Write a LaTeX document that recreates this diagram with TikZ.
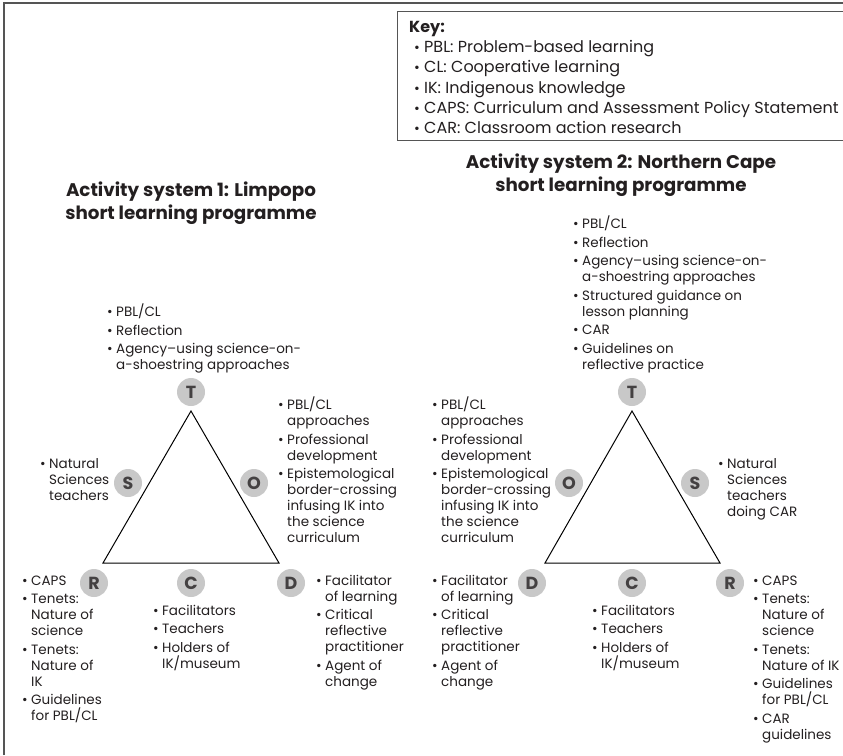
\documentclass[tikz,border=0pt]{standalone}
\usepackage{fontspec}
\setmainfont{Poppins}
\definecolor{inkcol}{HTML}{231F20}
\definecolor{discfill}{HTML}{C8C8C8}
\definecolor{framecol}{HTML}{555555}
% bullet, continuation indent and first-line strut
\newcommand\bu{\makebox[9pt][l]{\textbullet}}
\newcommand\cn{\hspace*{9pt}}
\newcommand\tp{\rule{0pt}{12pt}}
\newcommand\ig{\\[2.5pt]}
\newcommand\kb{\hspace*{5pt}\makebox[10pt][l]{{\fontsize{14}{14}\selectfont\textbullet}}}
\begin{document}
\begin{tikzpicture}[x=1pt,y=-1pt,
  letter/.style={circle, fill=discfill, minimum size=28pt, inner sep=0pt,
    font=\fontsize{17.5}{17.5}\selectfont\bfseries, text=inkcol!85},
  block/.style={anchor=north west, inner sep=0pt, align=left,
    font=\fontsize{13.5}{16}\selectfont, text=inkcol},
  heading/.style={anchor=north, inner sep=0pt, align=center,
    font=\fontsize{18.3}{22.5}\selectfont\bfseries, text=inkcol},
  edge/.style={draw=black, line width=1pt, line join=miter}]
\useasboundingbox (0,0) rectangle (843,755);

% outer frame (top and left sides)
\draw[framecol, line width=1.5pt] (4,755) -- (4,3) -- (850,3);

% key box
\node[draw=framecol, line width=1pt, anchor=north west, minimum width=470pt,
  minimum height=129pt, inner sep=0pt] (keybox) at (397,11) {};
\node[anchor=north west, inner sep=0pt, align=left, text=inkcol,
  font=\fontsize{16}{20.1}\selectfont] (keytext) at (409,18.5)
  {\rule{0pt}{14pt}\textbf{Key:}\\
   \kb PBL: Problem-based learning\\
   \kb CL: Cooperative learning\\
   \kb IK: Indigenous knowledge\\
   \kb CAPS: Curriculum and Assessment Policy Statement\\
   \kb CAR: Classroom action research};

% headings
\node[heading] (head1) at (191,180.5) {\rule{0pt}{16pt}Activity system 1: Limpopo\\short learning programme};
\node[heading] (head2) at (621,152.5) {\rule{0pt}{16pt}Activity system 2: Northern Cape\\short learning programme};

% ---------- activity system 1 ----------
\coordinate (apexL) at (191,411);
\coordinate (leftL) at (103,563);
\coordinate (rightL) at (279,563);
\draw[edge] (apexL) -- (rightL) -- (leftL) -- cycle;

\node[letter] (TL) at (191,392) {T};
\node[letter] (SL) at (128,483) {S};
\node[letter] (OL) at (254,483) {O};
\node[letter] (RL) at (94,583) {R};
\node[letter] (CL) at (191,583) {C};
\node[letter] (DL) at (291,583) {D};

\node[block] (tL) at (107,304) {\tp\bu PBL/CL\ig\bu Reflection\ig
  \bu Agency–using science-on-\\\cn a-shoestring approaches};
\node[block] (sL) at (40,456) {\tp\bu Natural\\\cn Sciences\\\cn teachers};
\node[block] (oL) at (278,397) {\tp\bu PBL/CL\\\cn approaches\ig
  \bu Professional\\\cn development\ig
  \bu Epistemological\\\cn border-crossing\\\cn infusing IK into\\\cn the science\\\cn curriculum};
\node[block] (rL) at (22,573) {\tp\bu CAPS\ig\bu Tenets:\\\cn Nature of\\\cn science\ig
  \bu Tenets:\\\cn Nature of\\\cn IK\ig\bu Guidelines\\\cn for PBL/CL};
\node[block] (cL) at (153,603) {\tp\bu Facilitators\ig\bu Teachers\ig
  \bu Holders of\\\cn IK/museum};
\node[block] (dL) at (316,573) {\tp\bu Facilitator\\\cn of learning\ig
  \bu Critical\\\cn reflective\\\cn practitioner\ig\bu Agent of\\\cn change};

% ---------- activity system 2 ----------
\coordinate (apexR) at (632,411);
\coordinate (leftR) at (545,563);
\coordinate (rightR) at (720,563);
\draw[edge] (apexR) -- (rightR) -- (leftR) -- cycle;

\node[letter] (TR) at (632,392) {T};
\node[letter] (OR) at (569,483) {O};
\node[letter] (SR) at (695,483) {S};
\node[letter] (DR) at (532,583) {D};
\node[letter] (CR) at (632,583) {C};
\node[letter] (RR) at (730,583) {R};

\node[block] (tR) at (573,216) {\tp\bu PBL/CL\ig\bu Reflection\ig
  \bu Agency–using science-on-\\\cn a-shoestring approaches\ig
  \bu Structured guidance on\\\cn lesson planning\ig\bu CAR\ig
  \bu Guidelines on\\\cn reflective practice};
\node[block] (oR) at (432,397) {\tp\bu PBL/CL\\\cn approaches\ig
  \bu Professional\\\cn development\ig
  \bu Epistemological\\\cn border-crossing\\\cn infusing IK into\\\cn the science\\\cn curriculum};
\node[block] (sR) at (718,456) {\tp\bu Natural\\\cn Sciences\\\cn teachers\\\cn doing CAR};
\node[block] (dR) at (432,573) {\tp\bu Facilitator\\\cn of learning\ig
  \bu Critical\\\cn reflective\\\cn practitioner\ig\bu Agent of\\\cn change};
\node[block] (cR) at (592,603) {\tp\bu Facilitators\ig\bu Teachers\ig
  \bu Holders of\\\cn IK/museum};
\node[block] (rR) at (753,573) {\tp\bu CAPS\ig\bu Tenets:\\\cn Nature of\\\cn science\ig
  \bu Tenets:\\\cn Nature of IK\ig\bu Guidelines\\\cn for PBL/CL\ig
  \bu CAR\\\cn guidelines};
\end{tikzpicture}
\end{document}
